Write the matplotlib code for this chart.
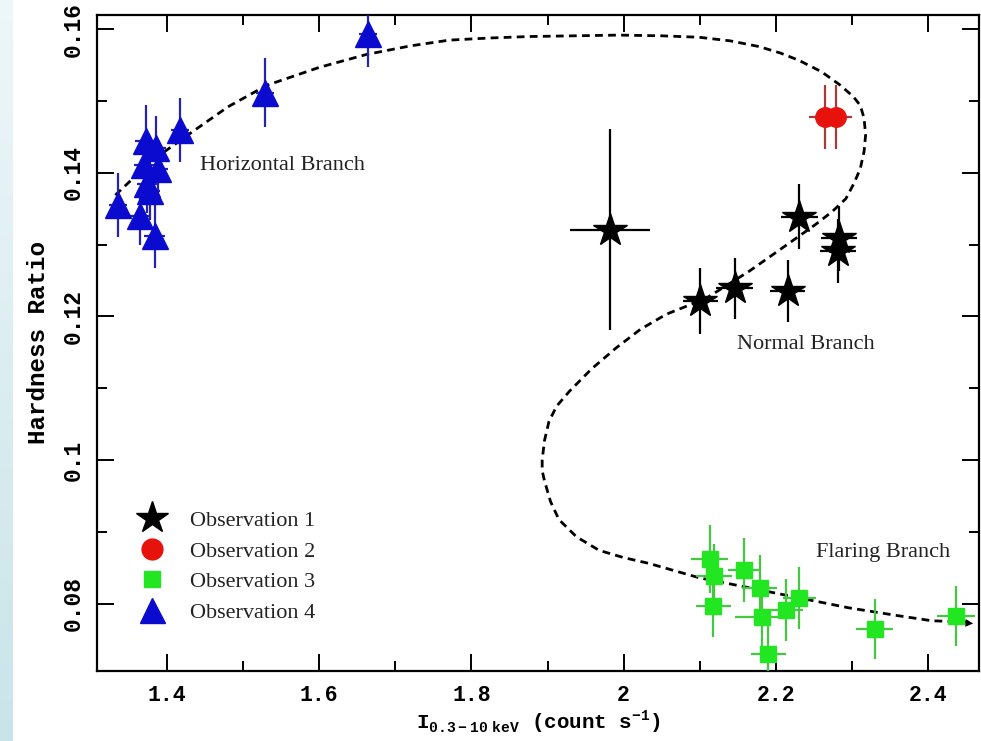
import numpy as np
import matplotlib
matplotlib.use("Agg")
import matplotlib.pyplot as plt
from matplotlib.lines import Line2D

# Observation 1 (stars)
obs1_x = [1.982, 2.101, 2.146, 2.216, 2.231, 2.283, 2.282]
obs1_y = [0.1321, 0.1221, 0.1239, 0.1235, 0.1339, 0.1309, 0.1291]
obs1_xerr = [0.053, 0.023, 0.024, 0.023, 0.024, 0.024, 0.024]
obs1_yerr = [0.014, 0.0046, 0.0043, 0.0043, 0.0045, 0.0045, 0.0045]

# Observation 2 (circles)
obs2_x = [2.265, 2.279]
obs2_y = [0.1478, 0.1478]
obs2_xerr = [0.022, 0.021]
obs2_yerr = [0.0045, 0.0045]

# Observation 3 (squares)
obs3_x = [2.113, 2.119, 2.118, 2.158, 2.179, 2.182, 2.190, 2.214, 2.231, 2.330, 2.437]
obs3_y = [0.0862, 0.0838, 0.0796, 0.0847, 0.0822, 0.0781, 0.0729, 0.0791, 0.0808, 0.0765, 0.0783]
obs3_xerr = [0.024, 0.024, 0.023, 0.021, 0.023, 0.036, 0.023, 0.022, 0.022, 0.024, 0.025]
obs3_yerr = [0.0047, 0.0045, 0.0043, 0.0045, 0.0045, 0.0045, 0.0043, 0.0043, 0.0043, 0.0042, 0.0042]

# Observation 4 (triangles)
obs4_x = [1.336, 1.365, 1.384, 1.372, 1.386, 1.417, 1.370, 1.388, 1.374, 1.378, 1.529, 1.664]
obs4_y = [0.1355, 0.1340, 0.1312, 0.1444, 0.1434, 0.1460, 0.1411, 0.1406, 0.1384, 0.1375, 0.1512, 0.1593]
obs4_xerr = [0.012, 0.014, 0.014, 0.014, 0.013, 0.012, 0.013, 0.013, 0.013, 0.013, 0.012, 0.012]
obs4_yerr = [0.0045, 0.004, 0.0045, 0.005, 0.0045, 0.0045, 0.004, 0.004, 0.004, 0.004, 0.0048, 0.0045]

# Z-track (dashed)
track_x = [1.332, 1.380, 1.433, 1.480, 1.531, 1.600, 1.662, 1.720, 1.771, 1.825, 1.876,
           1.935, 1.994, 2.050, 2.099, 2.140, 2.178, 2.206, 2.230, 2.260, 2.285, 2.302,
           2.311, 2.316, 2.318, 2.316, 2.311, 2.303, 2.292, 2.274, 2.252, 2.208, 2.165,
           2.108, 2.056, 2.022, 1.990, 1.958, 1.929, 1.912, 1.902, 1.896, 1.893, 1.893,
           1.896, 1.904, 1.915, 1.938, 1.968, 2.000, 2.033, 2.099, 2.165, 2.230, 2.296,
           2.361, 2.405, 2.457]
track_y = [0.1369, 0.1417, 0.1457, 0.1492, 0.1522, 0.1547, 0.1565, 0.1577, 0.1585, 0.1588,
           0.1590, 0.1591, 0.1592, 0.1591, 0.1589, 0.1584, 0.1576, 0.1567, 0.1557, 0.1541,
           0.1522, 0.1506, 0.1494, 0.1476, 0.1453, 0.1430, 0.1406, 0.1386, 0.1364, 0.1346,
           0.1328, 0.1295, 0.1263, 0.1225, 0.1203, 0.1182, 0.1156, 0.1127, 0.1096, 0.1075,
           0.1054, 0.1027, 0.1000, 0.0985, 0.0971, 0.0942, 0.0917, 0.0893, 0.0874, 0.0864,
           0.0856, 0.0836, 0.0822, 0.0808, 0.0794, 0.0783, 0.0776, 0.0774]

labels = ["Observation 1", "Observation 2", "Observation 3", "Observation 4"]

mono = "Liberation Mono"
serif = "Liberation Serif"
plt.rcParams["mathtext.fontset"] = "custom"
plt.rcParams["mathtext.rm"] = mono + ":bold"
plt.rcParams["mathtext.bf"] = mono + ":bold"

fig = plt.figure(figsize=(9.81, 7.41), dpi=100)

# light blue strip on the left edge
strip = fig.add_axes([0, 0, 13 / 981, 1])
grad = np.linspace(0, 1, 256).reshape(-1, 1)
strip.imshow(grad, aspect="auto", cmap=matplotlib.colors.LinearSegmentedColormap.from_list(
    "s", ["#eef7f9", "#c9e4e9"]))
strip.axis("off")

ax = fig.add_axes([97 / 981, 70 / 741, 882 / 981, 656 / 741])

ax.plot(track_x, track_y, color="black", lw=2.0, ls=(0, (2.8, 1.9)), zorder=2)
ax.annotate("", xy=(track_x[-1] + 0.006, track_y[-1] - 0.0002),
            xytext=(track_x[-2], track_y[-2]),
            arrowprops=dict(arrowstyle="-|>", color="black", lw=0, mutation_scale=14),
            zorder=2)

ax.errorbar(obs4_x, obs4_y, xerr=obs4_xerr, yerr=obs4_yerr, fmt="^", ms=19,
            color="#0b0bd0", ecolor="#2424b0", elinewidth=1.6, capsize=0, zorder=3)
ax.errorbar(obs3_x, obs3_y, xerr=obs3_xerr, yerr=obs3_yerr, fmt="s", ms=11,
            color="#22e622", ecolor="#44c844", elinewidth=1.6, capsize=0, zorder=3)
ax.errorbar(obs2_x, obs2_y, xerr=obs2_xerr, yerr=obs2_yerr, fmt="o", ms=14,
            color="#e8120c", ecolor="#a83a3a", elinewidth=1.6, capsize=0, zorder=3)
ax.errorbar(obs1_x, obs1_y, xerr=obs1_xerr, yerr=obs1_yerr, fmt="*", ms=25,
            color="black", ecolor="black", elinewidth=1.6, capsize=0, zorder=3)

ax.text(1.443, 0.1411, "Horizontal Branch", fontsize=16, family=serif, color="#222222",
        ha="left", va="center")
ax.text(2.149, 0.1161, "Normal Branch", fontsize=16, family=serif, color="#222222",
        ha="left", va="center")
ax.text(2.2525, 0.0871, "Flaring Branch", fontsize=16, family=serif, color="#222222",
        ha="left", va="center")

handles = [
    Line2D([], [], marker="*", ms=24, color="black", ls="none"),
    Line2D([], [], marker="o", ms=15, color="#e8120c", ls="none"),
    Line2D([], [], marker="s", ms=11, color="#22e622", ls="none"),
    Line2D([], [], marker="^", ms=18, color="#0b0bd0", ls="none"),
]
leg = ax.legend(handles, labels, loc="upper left", bbox_to_anchor=(0.02, 0.275),
                frameon=False, prop=dict(family=serif, size=16), labelspacing=0.45,
                handletextpad=0.9, handlelength=1.6)
for t in leg.get_texts():
    t.set_color("#222222")

ax.set_xlim(1.308, 2.467)
ax.set_ylim(0.0706, 0.162)
ax.set_xticks([1.4, 1.6, 1.8, 2.0, 2.2, 2.4])
ax.set_xticklabels(["1.4", "1.6", "1.8", "2", "2.2", "2.4"])
ax.set_xticks(np.arange(1.4, 2.46, 0.1), minor=True)
ax.set_yticks([0.08, 0.1, 0.12, 0.14, 0.16])
ax.set_yticklabels(["0.08", "0.1", "0.12", "0.14", "0.16"])
ax.set_yticks(np.arange(0.08, 0.161, 0.01), minor=True)

ax.tick_params(which="both", direction="in", top=True, right=True, width=1.4)
ax.tick_params(which="major", length=12)
ax.tick_params(which="minor", length=7)
ax.tick_params(axis="x", pad=10)
ax.tick_params(axis="y", pad=9)
for lab in ax.get_xticklabels():
    lab.set_family(mono)
    lab.set_weight("bold")
    lab.set_fontsize(15.5)
for lab in ax.get_yticklabels():
    lab.set_family(mono)
    lab.set_weight("bold")
    lab.set_fontsize(16.5)
    lab.set_rotation(90)
    lab.set_va("center")
for s in ax.spines.values():
    s.set_linewidth(1.6)

ax.set_ylabel("Hardness Ratio", family=mono, weight="bold", fontsize=17.5, labelpad=8)
ax.set_xlabel(r"I$_{\mathbf{0.3-10\ keV}}$ (count s$^{-1}$)", family=mono, weight="bold",
              fontsize=15, labelpad=2)

fig.savefig("out.png", dpi=100)
